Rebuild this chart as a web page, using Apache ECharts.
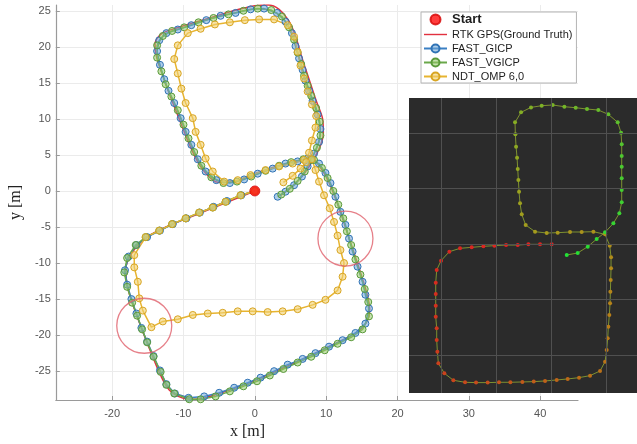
<!DOCTYPE html>
<html>
<head>
<meta charset="utf-8">
<script src="https://cdn.jsdelivr.net/npm/echarts@6/dist/echarts.min.js"></script>
<style>
    html, body { margin: 0; padding: 0; background: #fff; }
    #chart { width: 637px; height: 444px; }
</style>
</head>
<body>
<div id="chart"></div>
<script>
// trajectories in metres
const startPoint = [[0, 0]];

const rtkGps = [
    [0, 0], [-4, -1.6], [-8, -3.2], [-12, -4.8], [-15.1, -6.4], [-17.1, -8.4], [-18.1, -10.9],
    [-17.8, -13.5], [-16.8, -16.6], [-15.6, -19.8], [-14.4, -22.8], [-13.2, -25.6], [-12, -27.6],
    [-10.2, -28.7], [-8.2, -28.9], [-5, -28.1], [-1, -26.7], [3, -25], [7, -23.2], [11, -21.3],
    [14, -19.8], [15.6, -18.3], [16.1, -16.4], [15.7, -14.2], [14.7, -11], [13.7, -8], [12.7, -5],
    [11.6, -1.8], [10.4, 1.2], [9.3, 3.1], [8.1, 4.4], [6, 4.2], [3, 3.4], [0, 2.4], [-3, 1.3],
    [-5.2, 1.2], [-7, 2.6], [-8.3, 4.6], [-9.4, 7], [-10.6, 10], [-11.8, 13], [-12.9, 16],
    [-13.8, 18.7], [-14, 20.4], [-13.1, 21.8], [-11, 22.6], [-7, 23.8], [-3, 25], [0, 25.7],
    [1.9, 25.8], [3.4, 25.2], [4.7, 23.7], [5.7, 21.5], [6.6, 18.5], [7.6, 15.5], [8.6, 12.5],
    [9.5, 10], [9.6, 8], [9.2, 6.3], [8.3, 4.5], [6.9, 2.4], [5.4, 0.8], [3.6, -0.6]
];

const fastGicp = [
    [0, 0], [-1.9, -0.6], [-3.9, -1.4], [-5.8, -2.2], [-7.7, -3.0], [-9.6, -3.8], [-11.5, -4.6],
    [-13.3, -5.5], [-15.1, -6.4], [-16.6, -7.5], [-17.7, -9.1], [-18.2, -11.0], [-17.9, -13.0],
    [-17.3, -15.0], [-16.6, -17.0], [-15.9, -19.0], [-15.1, -20.9], [-14.2, -22.9], [-13.3, -24.9],
    [-12.4, -26.8], [-11.2, -28.1], [-9.3, -28.7], [-7.1, -28.5], [-5.0, -28.0], [-2.9, -27.3],
    [-1.0, -26.6], [0.8, -25.9], [2.7, -25.0], [4.6, -24.1], [6.7, -23.3], [8.5, -22.5],
    [10.4, -21.6], [12.3, -20.7], [14.1, -19.7], [15.5, -18.4], [16.0, -16.3], [15.5, -14.4],
    [15.1, -12.6], [14.4, -10.5], [13.7, -8.4], [13.2, -6.6], [12.7, -4.7], [12.0, -2.9],
    [11.3, -0.8], [10.6, 1.1], [9.9, 2.5], [9.0, 3.8], [7.4, 4.5], [6.0, 4.1], [4.3, 3.8],
    [2.5, 3.1], [0.4, 2.4], [-1.5, 1.6], [-3.5, 1.1], [-5.4, 1.5], [-6.9, 2.7], [-8.0, 4.4],
    [-8.9, 6.4], [-9.7, 8.2], [-10.4, 10.1], [-11.3, 12.2], [-12.1, 13.9], [-12.7, 15.5],
    [-13.3, 17.5], [-13.7, 19.4], [-13.4, 20.9], [-12.4, 21.9], [-10.8, 22.4], [-8.9, 23.0],
    [-6.8, 23.7], [-4.8, 24.3], [-2.7, 24.7], [-0.6, 25.2], [1.3, 25.3], [3.1, 24.7], [4.3, 23.5],
    [5.2, 21.9], [5.7, 20.1], [6.2, 18.4], [6.7, 16.8], [7.1, 15.3], [7.6, 13.9], [8.1, 12.5],
    [8.8, 10.6], [9.2, 8.6], [9.0, 6.8], [8.3, 5.2], [7.4, 3.4], [6.6, 2.0], [5.5, 0.8],
    [4.3, -0.1], [3.2, -0.8]
];

const fastVgicp = [
    [0, 0], [-2.0, -0.6], [-4.1, -1.5], [-5.9, -2.3], [-7.8, -3.0], [-9.7, -3.8], [-11.6, -4.6],
    [-13.4, -5.5], [-15.3, -6.4], [-16.7, -7.5], [-17.9, -9.3], [-18.3, -11.3], [-17.9, -13.3],
    [-17.2, -15.5], [-16.5, -17.3], [-15.8, -19.2], [-15.1, -21.0], [-14.2, -23.0], [-13.2, -25.1],
    [-12.4, -26.9], [-11.3, -28.1], [-9.2, -28.9], [-7.6, -28.9], [-5.5, -28.5], [-3.5, -27.8],
    [-1.6, -27.1], [0.3, -26.4], [2.1, -25.6], [4.0, -24.7], [6.0, -23.8], [7.9, -23.0],
    [9.8, -22.1], [11.6, -21.2], [13.5, -20.3], [15.1, -19.2], [16.0, -17.4], [15.9, -15.4],
    [15.4, -13.6], [14.8, -11.6], [14.1, -9.5], [13.5, -7.5], [12.9, -5.6], [12.4, -3.8],
    [11.7, -1.9], [11.0, 0.0], [10.2, 1.8], [9.4, 3.2], [8.3, 4.3], [6.8, 4.4], [5.1, 4.0],
    [3.4, 3.5], [1.5, 2.8], [-0.5, 2.0], [-2.5, 1.3], [-4.4, 1.1], [-6.1, 1.9], [-7.5, 3.5],
    [-8.5, 5.4], [-9.3, 7.3], [-10.0, 9.2], [-10.8, 11.2], [-11.7, 13.1], [-12.5, 14.8],
    [-13.1, 16.6], [-13.7, 18.5], [-13.7, 20.2], [-12.9, 21.5], [-11.6, 22.2], [-9.9, 22.7],
    [-7.9, 23.4], [-5.8, 24.0], [-3.7, 24.5], [-1.6, 25.0], [0.4, 25.3], [2.3, 25.1], [3.8, 24.2],
    [4.8, 22.7], [5.5, 21.0], [6.0, 19.2], [6.5, 17.6], [6.9, 16.0], [7.4, 14.6], [7.9, 13.2],
    [8.6, 11.5], [9.1, 9.6], [9.2, 7.7], [8.7, 6.0], [7.9, 4.3], [7.0, 2.7], [6.0, 1.4],
    [4.9, 0.3], [3.7, -0.5]
];

const ndtOmp = [
    [0, 0], [-2.0, -0.6], [-4.1, -1.5], [-5.9, -2.3], [-7.8, -3.0], [-9.7, -3.8], [-11.6, -4.6],
    [-13.4, -5.5], [-15.3, -6.4], [-16.9, -8.9], [-16.9, -10.6], [-16.4, -12.6], [-16.2, -14.9],
    [-15.7, -16.6], [-14.5, -18.9], [-12.9, -18.1], [-10.8, -17.8], [-8.7, -17.2], [-6.6, -17.0],
    [-4.5, -16.9], [-2.4, -16.7], [-0.3, -16.7], [1.8, -16.8], [3.9, -16.7], [6.0, -16.4],
    [8.1, -15.8], [9.9, -15.1], [11.6, -13.8], [12.3, -11.9], [12.5, -10.0], [12.0, -8.2],
    [11.6, -6.2], [11.1, -4.3], [10.5, -2.4], [9.7, -0.6], [9.0, 1.3], [8.5, 2.9], [8.0, 4.4],
    [6.9, 4.3], [5.3, 3.8], [3.4, 3.4], [1.5, 2.9], [-0.6, 2.2], [-2.4, 1.5], [-4.3, 1.3],
    [-5.9, 2.7], [-6.9, 4.5], [-7.6, 6.4], [-8.3, 8.2], [-8.7, 10.1], [-9.7, 12.2], [-10.3, 14.2],
    [-10.8, 16.3], [-11.3, 18.3], [-10.8, 20.2], [-9.4, 21.9], [-7.6, 22.5], [-5.6, 23.1],
    [-3.5, 23.4], [-1.4, 23.7], [0.6, 23.8], [2.7, 23.8], [4.6, 23.0], [5.5, 21.4], [6.0, 19.3],
    [6.4, 17.4], [6.9, 15.6], [7.4, 13.8], [8.0, 12.0], [8.6, 10.4], [8.5, 8.8], [8.0, 7.0],
    [7.6, 5.3], [7.2, 4.0], [6.4, 3.1], [5.3, 2.1], [4.0, 1.2]
];

// red rings marking the NDT failures
const failureRings = [[12.7, -6.6], [-15.5, -18.7]];

// inset (photo of the map), in its own grid-cell units
const insetTrack = [
    [2.0, 1.994], [1.788, 1.994], [1.576, 1.994], [1.382, 1.982], [1.170, 1.982], [0.958, 1.970],
    [0.758, 1.958], [0.545, 1.940], [0.333, 1.922], [0.139, 1.862], [-0.012, 1.700], [-0.091, 1.532],
    [-0.109, 1.303], [-0.109, 1.099], [-0.109, 0.889], [-0.109, 0.691], [-0.091, 0.480],
    [-0.091, 0.270], [-0.079, 0.060], [-0.061, -0.150], [0.048, -0.330], [0.212, -0.456],
    [0.424, -0.492], [0.624, -0.498], [0.836, -0.498], [1.042, -0.492], [1.248, -0.492],
    [1.467, -0.486], [1.673, -0.480], [1.879, -0.468], [2.091, -0.450], [2.291, -0.432],
    [2.497, -0.408], [2.697, -0.372], [2.879, -0.288], [2.970, -0.120], [3.0, 0.090],
    [3.018, 0.300], [3.030, 0.511], [3.048, 0.721], [3.061, 0.931], [3.067, 1.141], [3.073, 1.351],
    [3.079, 1.562], [3.079, 1.760], [3.055, 1.970], [2.970, 2.174], [2.758, 2.222], [2.545, 2.216],
    [2.333, 2.216], [2.109, 2.204], [1.909, 2.198], [1.697, 2.222], [1.527, 2.342], [1.455, 2.535],
    [1.424, 2.733], [1.406, 2.943], [1.394, 3.153], [1.382, 3.351], [1.370, 3.556], [1.352, 3.754],
    [1.339, 3.976], [1.333, 4.192], [1.442, 4.372], [1.624, 4.462], [1.818, 4.492], [2.018, 4.505],
    [2.230, 4.474], [2.436, 4.456], [2.642, 4.432], [2.848, 4.414], [3.030, 4.336], [3.2, 4.192],
    [3.261, 4.006], [3.273, 3.796], [3.273, 3.586], [3.273, 3.393], [3.273, 3.183], [3.273, 2.973],
    [3.273, 2.751], [3.230, 2.553], [3.121, 2.372], [2.970, 2.210], [2.818, 2.090], [2.655, 1.952],
    [2.473, 1.838], [2.273, 1.802]
];
const insetGridX = [0, 1, 2, 3];
const insetGridY = [0, 1, 2, 3, 4];

const sans = 'Liberation Sans, Arial, sans-serif';
const serif = 'Liberation Serif, Times New Roman, serif';

const chart = echarts.init(document.getElementById('chart'));

const markerSeries = (name, data, line, fill, border) => ({
    name: name,
    type: 'line',
    data: data,
    symbol: 'circle',
    symbolSize: 7,
    lineStyle: { color: line, width: 1.5 },
    itemStyle: { color: fill, borderColor: border, borderWidth: 1 },
    emphasis: { disabled: true }
});

const option = {
    animation: false,
    backgroundColor: '#fff',
    grid: [
        { left: 55, top: 5, right: 59, bottom: 44 },
        { left: 409, top: 98, width: 228, height: 295, show: true,
          backgroundColor: '#2b2b2b', borderWidth: 0, z: 1 }
    ],
    legend: {
        orient: 'vertical',
        left: 421,
        top: 12,
        padding: [1, 4, 1, 2],
        itemGap: 3,
        itemWidth: 23,
        itemHeight: 10,
        backgroundColor: '#fff',
        borderColor: '#b4b4b4',
        borderWidth: 1,
        textStyle: { fontFamily: sans, fontSize: 11, color: '#1e1e1e' },
        data: [
            { name: 'Start', icon: 'circle', textStyle: { fontWeight: 'bold', fontSize: 13 } },
            { name: 'RTK GPS(Ground Truth)', icon: 'path://M0,0H26V1.6H0Z' },
            'FAST_GICP', 'FAST_VGICP', 'NDT_OMP 6,0'
        ]
    },
    xAxis: [
        {
            type: 'value', gridIndex: 0, min: -27.9, max: 45.3, splitNumber: 7,
            axisLine: { onZero: false, lineStyle: { color: '#9a9a9a', width: 1.2 } },
            axisTick: { inside: true, length: 4, lineStyle: { color: '#9a9a9a' } },
            axisLabel: { showMinLabel: false, showMaxLabel: false, margin: 8,
                         fontFamily: sans, fontSize: 11, color: '#555' },
            splitLine: { showMinLine: false, showMaxLine: false, lineStyle: { color: '#ebebeb' } }
        },
        { type: 'value', gridIndex: 1, min: -0.595, max: 3.551, show: false }
    ],
    yAxis: [
        {
            type: 'value', gridIndex: 0, min: -29, max: 25.8, splitNumber: 11,
            name: 'y [m]', nameLocation: 'middle', nameGap: 22,
            nameTextStyle: { fontFamily: serif, fontSize: 16, color: '#222' },
            axisLine: { show: true, onZero: false, lineStyle: { color: '#9a9a9a', width: 1.2 } },
            axisTick: { show: true, inside: true, length: 4, lineStyle: { color: '#9a9a9a' } },
            axisLabel: { showMinLabel: false, showMaxLabel: false, margin: 5,
                         fontFamily: sans, fontSize: 11, color: '#555' },
            splitLine: { showMinLine: false, showMaxLine: false, lineStyle: { color: '#ebebeb' } }
        },
        { type: 'value', gridIndex: 1, min: -0.685, max: 4.631, show: false }
    ],
    graphic: [
        { type: 'text', left: 230, top: 424, z: 10,
          style: { text: 'x [m]', font: '16px ' + serif, fill: '#222' } }
    ],
    visualMap: {
        show: false,
        type: 'continuous',
        seriesIndex: 7,
        dimension: 2,
        min: 0,
        max: insetTrack.length - 1,
        inRange: { color: ['#e02424', '#d8281f', '#c8461c', '#bd6c18', '#b38a1a', '#a29e1e', '#7fb126', '#4ec730', '#22e236'] }
    },
    series: [
        {
            name: 'RTK GPS(Ground Truth)',
            type: 'line',
            data: rtkGps,
            symbol: 'none',
            smooth: 0.3,
            lineStyle: { color: '#e2313f', width: 1.5 },
            itemStyle: { color: '#e2313f' },
            emphasis: { disabled: true }
        },
        markerSeries('FAST_GICP', fastGicp, '#3a7fc3', 'rgba(110,165,215,0.55)', '#2f72b5'),
        markerSeries('FAST_VGICP', fastVgicp, '#6aa84a', 'rgba(150,200,105,0.55)', '#5a9a3a'),
        markerSeries('NDT_OMP 6,0', ndtOmp, '#e7b430', 'rgba(242,208,110,0.6)', '#d8a522'),
        {
            name: 'Start',
            type: 'scatter',
            data: startPoint,
            symbolSize: 10,
            itemStyle: { color: '#ff0d0d', borderColor: '#d40000', borderWidth: 1 },
            z: 5
        },
        {
            name: 'rings',
            type: 'scatter',
            data: failureRings,
            symbolSize: 55,
            silent: true,
            itemStyle: { color: 'rgba(0,0,0,0)', borderColor: '#e0606c', borderWidth: 1.3 },
            z: 4
        },
        {
            name: 'insetGrid',
            type: 'line',
            xAxisIndex: 1,
            yAxisIndex: 1,
            data: [],
            z: 3,
            markLine: {
                silent: true,
                symbol: ['none', 'none'],
                label: { show: false },
                lineStyle: { color: '#505050', width: 1, type: 'solid' },
                data: insetGridX.map(v => ({ xAxis: v })).concat(insetGridY.map(v => ({ yAxis: v })))
            }
        },
        {
            name: 'insetTrack',
            type: 'line',
            xAxisIndex: 1,
            yAxisIndex: 1,
            data: insetTrack.map((p, i) => [p[0], p[1], i]),
            symbol: 'circle',
            symbolSize: 4,
            lineStyle: { width: 1, opacity: 0.6 },
            z: 4,
            silent: true
        }
    ]
};

chart.setOption(option);
</script>
</body>
</html>
